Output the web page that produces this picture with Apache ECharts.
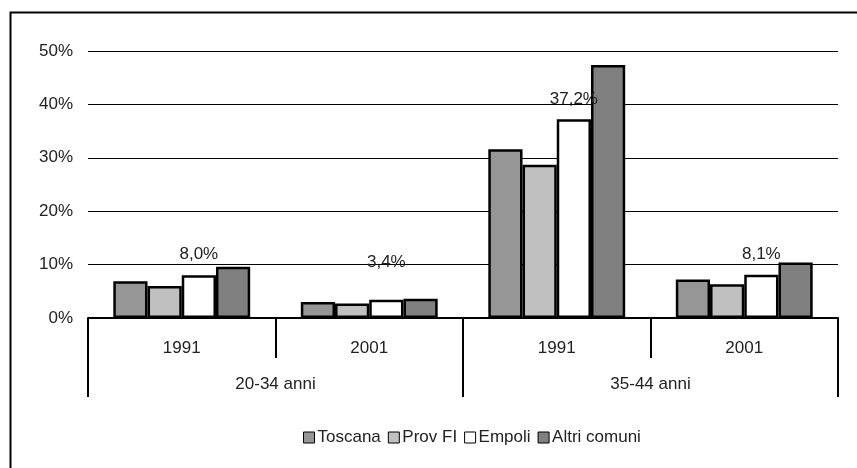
<!DOCTYPE html>
<html>
<head>
<meta charset="utf-8">
<script src="https://cdn.jsdelivr.net/npm/echarts@6/dist/echarts.min.js"></script>
<style>html,body{margin:0;padding:0;background:#fff}#c{width:857px;height:468px}</style>
</head>
<body>
<div id="c"></div>
<script>
const years = ['1991', '2001', '1991', '2001'];
const ageGroups = ['20-34 anni', '35-44 anni'];
const seriesNames = ['Toscana', 'Prov FI', 'Empoli', 'Altri comuni'];
const toscana = [6.9, 3.0, 31.6, 7.2];
const provFI = [6.0, 2.7, 28.7, 6.3];
const empoli = [8.0, 3.4, 37.2, 8.1];
const altri = [9.6, 3.6, 47.4, 10.4];
const yTicks = [0, 10, 20, 30, 40, 50];

const FONT = "'Liberation Sans Narrow', 'Arial Narrow', 'Liberation Sans', sans-serif";
const colors = ['#969696', '#c0c0c0', '#ffffff', '#808080'];
const values = [toscana, provFI, empoli, altri];
const fmt = v => v.toFixed(1).replace('.', ',') + '%';

const series = seriesNames.map((name, i) => ({
  name: name,
  type: 'bar',
  xAxisIndex: 0,
  barGap: '0%',
  barCategoryGap: '27%',
  itemStyle: { color: colors[i], borderColor: '#000', borderWidth: 2.5 },
  data: values[i].map((v, j) => {
    if (i !== 2) return v;
    return { value: v, label: { show: true, distance: j === 1 ? 29 : 12 } };
  }),
  label: {
    show: false, position: 'top', fontFamily: FONT, fontSize: 17, color: '#222',
    formatter: p => fmt(p.value)
  }
}));

const chart = echarts.init(document.getElementById('c'), null, { renderer: 'canvas' });
chart.setOption({
  animation: false,
  backgroundColor: '#fff',
  textStyle: { fontFamily: FONT },
  graphic: [{
    type: 'rect', left: 8, top: 10, z: 100,
    shape: { x: 0, y: 0, width: 900, height: 500 },
    style: { fill: 'none', stroke: '#000', lineWidth: 2 }
  }],
  grid: { left: 88, right: 19, top: 51, bottom: 150 },
  legend: {
    data: seriesNames,
    top: 424, left: 298,
    itemWidth: 11, itemHeight: 11, itemGap: 7,
    icon: 'rect',
    itemStyle: { borderWidth: 1, borderColor: '#000' },
    textStyle: { fontFamily: FONT, fontSize: 17, color: '#222', padding: [0, 0, 0, -2] }
  },
  xAxis: [{
    type: 'category',
    data: years,
    position: 'bottom',
    axisLine: { lineStyle: { color: '#000', width: 2 } },
    axisTick: { show: true, interval: 0, length: 40, lineStyle: { color: '#000', width: 2 } },
    axisLabel: { interval: 0, margin: 22, fontFamily: FONT, fontSize: 17, color: '#222' }
  }, {
    type: 'category',
    data: ageGroups,
    position: 'bottom',
    axisLine: { show: false },
    axisTick: { show: true, interval: 0, length: 79, lineStyle: { color: '#000', width: 2 } },
    axisLabel: { interval: 0, margin: 58, fontFamily: FONT, fontSize: 17, color: '#222' }
  }],
  yAxis: {
    type: 'value',
    min: yTicks[0], max: yTicks[yTicks.length - 1], interval: 10,
    axisLine: { show: false },
    axisTick: { show: false },
    splitLine: { lineStyle: { color: '#000', width: 1 } },
    axisLabel: { margin: 15, fontFamily: FONT, fontSize: 17, color: '#222', formatter: v => v + '%' }
  },
  series: series
});
</script>
</body>
</html>
